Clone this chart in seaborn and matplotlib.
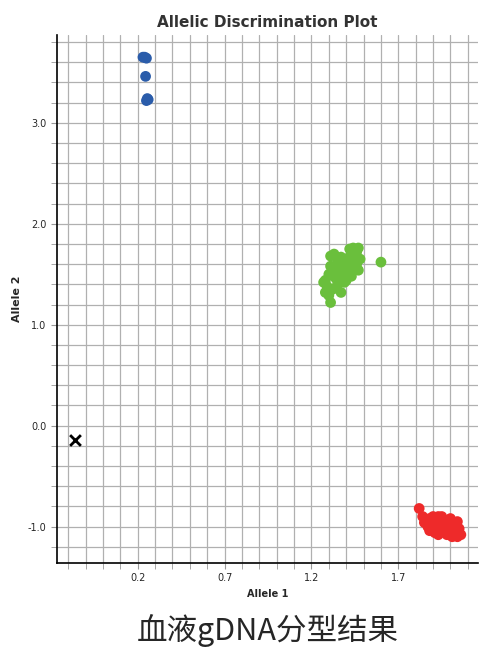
import matplotlib
matplotlib.use("Agg")
import matplotlib.pyplot as plt
import seaborn as sns
import numpy as np
import pandas as pd

blue_x = [0.23, 0.24, 0.25, 0.245, 0.255, 0.25, 0.26]
blue_y = [3.65, 3.65, 3.64, 3.46, 3.24, 3.22, 3.23]

green_x = [1.27, 1.29, 1.30, 1.31, 1.32, 1.33, 1.34, 1.35, 1.36, 1.37, 1.38, 1.39, 1.40,
           1.41, 1.42, 1.43, 1.44, 1.45, 1.46, 1.47, 1.48, 1.36, 1.34, 1.32, 1.30, 1.28,
           1.31, 1.33, 1.35, 1.37, 1.39, 1.41, 1.43, 1.45, 1.38, 1.36, 1.34, 1.40, 1.42,
           1.44, 1.46, 1.30, 1.28, 1.32, 1.37, 1.60, 1.31, 1.33, 1.39, 1.35, 1.47, 1.43]
green_y = [1.42, 1.38, 1.29, 1.22, 1.35, 1.48, 1.55, 1.62, 1.58, 1.52, 1.45, 1.60, 1.55,
           1.66, 1.75, 1.70, 1.62, 1.56, 1.72, 1.76, 1.65, 1.45, 1.50, 1.56, 1.50, 1.44,
           1.68, 1.70, 1.40, 1.32, 1.48, 1.50, 1.58, 1.68, 1.62, 1.54, 1.46, 1.44, 1.54,
           1.76, 1.60, 1.35, 1.32, 1.55, 1.67, 1.62, 1.58, 1.52, 1.42, 1.60, 1.54, 1.48]

red_x = [1.82, 1.84, 1.86, 1.88, 1.90, 1.92, 1.94, 1.96, 1.98, 2.00, 2.02, 2.04, 2.06,
         1.85, 1.87, 1.89, 1.91, 1.93, 1.95, 1.97, 1.99, 2.01, 2.03, 2.05, 1.88, 1.90,
         1.92, 1.94, 1.96, 1.98, 2.00, 2.02, 2.04, 1.93, 1.97, 2.01, 1.91, 1.95, 1.99, 2.03]
red_y = [-0.82, -0.90, -0.94, -0.92, -0.90, -0.95, -0.98, -1.02, -0.96, -0.92, -1.05, -0.95, -1.08,
         -0.96, -1.00, -1.02, -0.92, -1.08, -0.90, -1.06, -1.00, -1.10, -0.98, -1.02, -1.04, -0.98,
         -1.00, -1.04, -0.94, -1.08, -1.02, -0.96, -1.10, -0.90, -0.98, -1.04, -1.06, -1.00, -0.94, -1.00]

ntc_x = [-0.16]
ntc_y = [-0.14]

df = pd.DataFrame({
    "x": blue_x + green_x + red_x,
    "y": blue_y + green_y + red_y,
    "grp": ["b"] * len(blue_x) + ["g"] * len(green_x) + ["r"] * len(red_x),
})

sns.set_style("white")
fig = plt.figure(figsize=(4.87, 6.6), dpi=100)
ax = fig.add_axes([0.117, 0.147, 0.865, 0.80])
ax.set_xlim(-0.265, 2.16)
ax.set_ylim(-1.36, 3.87)
ax.set_xticks(np.arange(-0.2, 2.15, 0.1), minor=True)
ax.set_xticks([0.2, 0.7, 1.2, 1.7])
ax.set_yticks(np.arange(-1.2, 3.85, 0.2), minor=True)
ax.set_yticks([-1.0, 0.0, 1.0, 2.0, 3.0])
ax.set_yticklabels(["-1.0", "0.0", "1.0", "2.0", "3.0"])
ax.grid(True, which="both", color="#b0b0b0", linewidth=0.9)
ax.set_axisbelow(True)
for s in ["top", "right"]:
    ax.spines[s].set_visible(False)
for s in ["left", "bottom"]:
    ax.spines[s].set_color("black")
    ax.spines[s].set_linewidth(1.2)
ax.tick_params(which="both", direction="out", length=4, color="#999999", labelsize=7, bottom=True, left=True)

sns.scatterplot(data=df, x="x", y="y", hue="grp",
                palette={"b": "#2a5caa", "g": "#6abf3c", "r": "#ee2a2a"},
                s=60, edgecolor="none", legend=False, ax=ax)
ax.scatter(ntc_x, ntc_y, marker="x", color="black", s=60, linewidths=2)

ax.set_xlabel("Allele 1", fontsize=7, fontweight="bold")
ax.set_ylabel("Allele 2", fontsize=8, fontweight="bold")
ax.set_title("Allelic Discrimination Plot", fontsize=11, fontweight="bold", color="#333333")
fig.text(0.55, 0.03, "血液gDNA分型结果", ha="center", fontsize=22,
         family=["Noto Sans CJK SC", "DejaVu Sans"])
fig.savefig("out.png", dpi=100)
